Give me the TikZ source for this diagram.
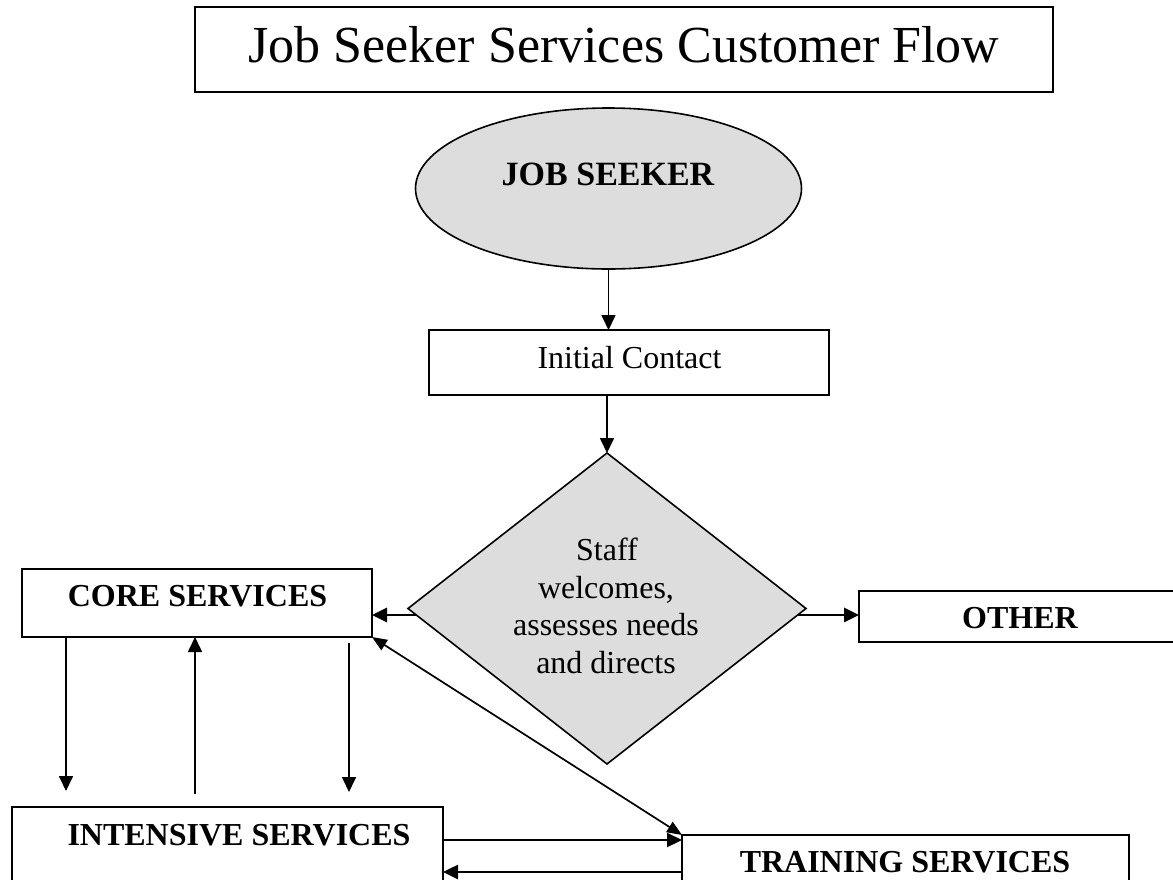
\documentclass[tikz,border=0pt]{standalone}
\usepackage{fontspec}
\setmainfont{Liberation Serif}
\usetikzlibrary{shapes.geometric,arrows.meta}
\definecolor{shapegrey}{RGB}{221,221,221}
\begin{document}
\begin{tikzpicture}[x=1pt,y=-1pt,
  box/.style={draw,line width=2pt,inner sep=0pt,outer sep=0pt},
  lbl/.style={anchor=base,inner sep=0pt,font=\fontsize{32}{38}\selectfont\bfseries},
  txt/.style={anchor=base,inner sep=0pt,font=\fontsize{32}{38}\selectfont},
  arr/.style={-{Triangle[length=15pt,width=14pt]},line width=1.7pt},
]
\useasboundingbox (0,0) rectangle (1173,879);
% shapes
\node[box,minimum width=858pt,minimum height=85pt] (titlebox) at (624,49.5) {};
\node[draw,ellipse,fill=shapegrey,line width=1.6pt,inner sep=0pt,outer sep=0pt,
      minimum width=386pt,minimum height=161pt] (seeker) at (608.5,188.5) {};
\node[box,line width=1.7pt,minimum width=400pt,minimum height=65pt] (init) at (629,362.5) {};
\node[draw,diamond,fill=shapegrey,line width=1.6pt,inner sep=0pt,outer sep=0pt,
      minimum width=398pt,minimum height=311pt] (diam) at (607,608.5) {};
\node[box,minimum width=350pt,minimum height=68pt] (core) at (197,603) {};
\node[box,minimum width=341pt,minimum height=51pt] (other) at (1029.5,616.5) {};
\node[box,minimum width=431pt,minimum height=113pt] (int) at (227.5,863.5) {};
\node[box,minimum width=447pt,minimum height=85pt] (train) at (905.5,877.5) {};
% texts
\node[txt,font=\fontsize{52}{60}\selectfont] (titletext) at (624,62) {Job Seeker Services Customer Flow};
\node[lbl,font=\fontsize{34}{40}\selectfont\bfseries] (seekertext) at (608,185) {JOB SEEKER};
\node[txt] (inittext) at (629.5,368) {Initial Contact};
\node[txt] (d1) at (607,560) {Staff};
\node[txt] (d2) at (606,598) {welcomes,};
\node[txt] (d3) at (606,635) {assesses needs};
\node[txt] (d4) at (606,673) {and directs};
\node[lbl] (coretext) at (197.5,606) {CORE SERVICES};
\node[lbl] (othertext) at (1020,628) {OTHER};
\node[lbl] (inttext) at (239,845) {INTENSIVE SERVICES};
\node[lbl] (traintext) at (905,872) {TRAINING SERVICES};
% helper coordinates
\coordinate (dl) at (416,615);
\coordinate (dr) at (798,615);
\coordinate (c1) at (66,791);
\coordinate (c2) at (195,794);
\coordinate (c3s) at (349,643);
\coordinate (c3e) at (349,792);
\coordinate (h1) at (0,840);
\coordinate (h2) at (0,872);
% connectors
\draw[arr] (seeker.south) -- (seeker.south |- init.north);
\draw[arr] (init.south -| diam.north) -- (diam.north);
\draw[arr,line width=2.8pt] (dl) -- (dl -| core.east);
\draw[arr,line width=2.8pt] (dr) -- (dr -| other.west);
\draw[arr] (core.south -| c1) -- (c1);
\draw[arr] (c2) -- (core.south -| c2);
\draw[arr] (c3s) -- (c3e);
\draw[{Triangle[length=15pt,width=12pt]}-{Triangle[length=15pt,width=12pt]},line width=1.7pt] (core.south east) -- (train.north west);
\draw[arr,line width=2.2pt] (int.east |- h1) -- (train.west |- h1);
\draw[arr,line width=2.6pt] (train.west |- h2) -- (int.east |- h2);
\end{tikzpicture}
\end{document}
